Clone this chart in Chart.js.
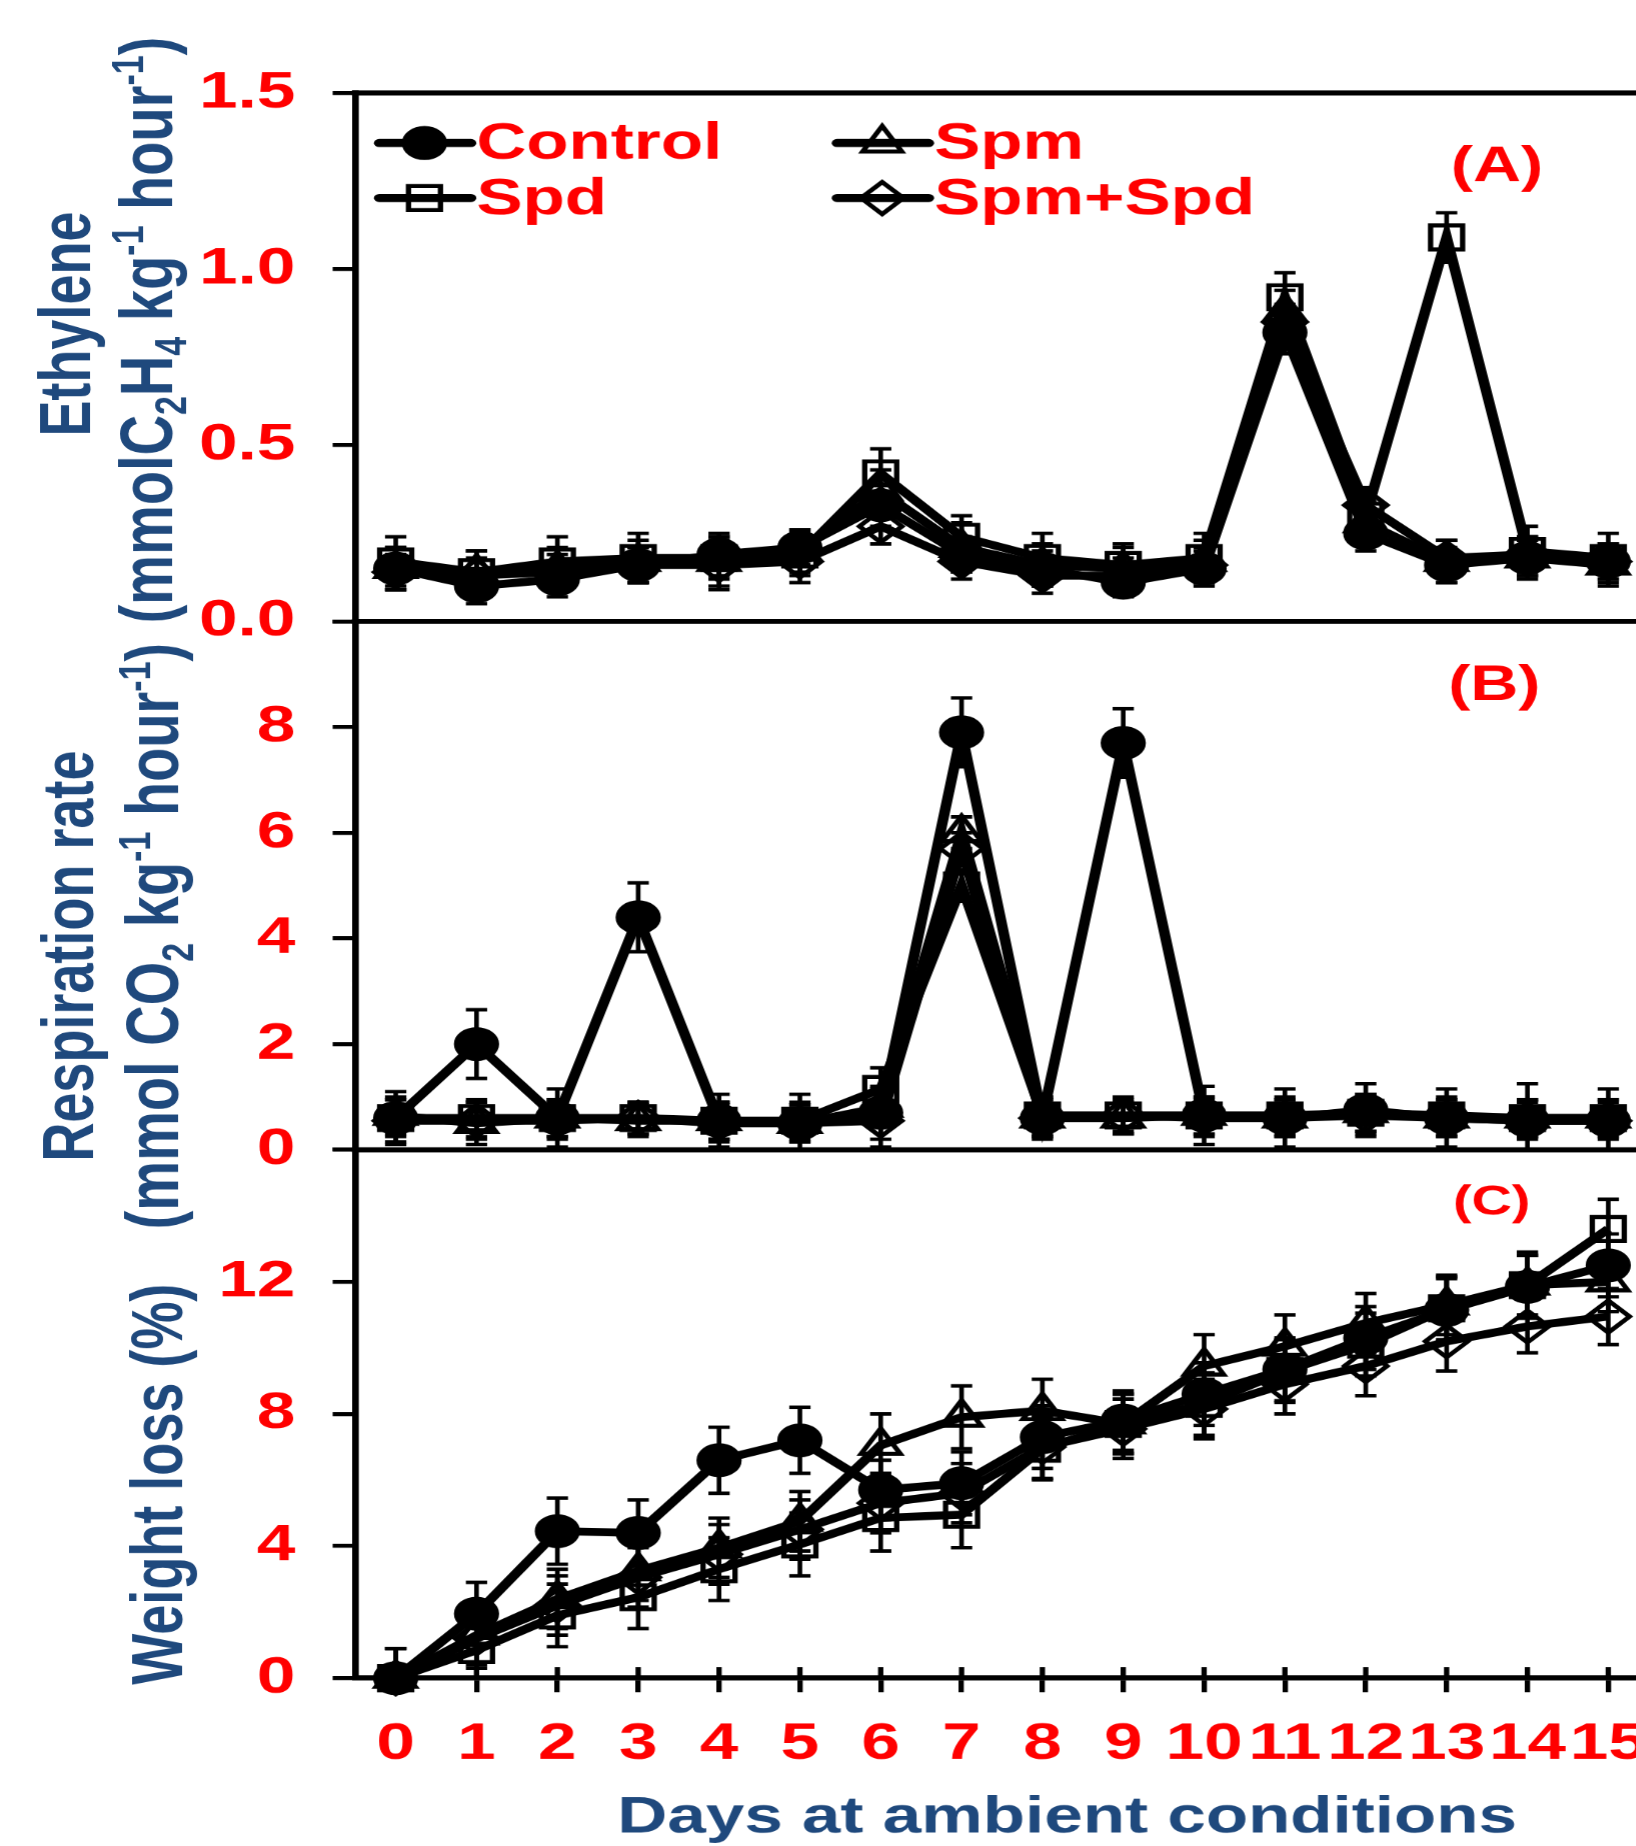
<!DOCTYPE html>
<html>
<head>
<meta charset="utf-8">
<script src="https://cdn.jsdelivr.net/npm/chart.js@4.4.1/dist/chart.umd.min.js"></script>
<style>
  html, body { margin: 0; padding: 0; background: #fff; overflow: hidden; }
  #wrap { width: 1636px; height: 1846px; overflow: hidden; position: relative; background: #fff; }
  /* the source figure is stretched sideways, so the whole canvas is too */
  #box { position: absolute; left: 0; top: 0; width: 1260px; height: 1846px; transform: scaleX(1.33); transform-origin: 0 0; }
</style>
</head>
<body>
<div id="wrap"><div id="box"><canvas id="c" width="1260" height="1846"></canvas></div></div>
<script>
// --- data ---
const days = ['0', '1', '2', '3', '4', '5', '6', '7', '8', '9', '10', '11', '12', '13', '14', '15'];
const ethTicks = [0, 0.5, 1.0, 1.5];
const resTicks = [0, 2, 4, 6, 8, 10];
const wlTicks = [0, 4, 8, 12, 16];

// (A) ethylene
const ethControl = [0.15, 0.10, 0.12, 0.16, 0.19, 0.21, 0.33, 0.19, 0.15, 0.11, 0.15, 0.82, 0.25, 0.16, 0.18, 0.17];
const ethSpd     = [0.17, 0.14, 0.17, 0.18, 0.18, 0.19, 0.42, 0.24, 0.18, 0.16, 0.18, 0.92, 0.30, 1.09, 0.20, 0.18];
const ethSpm     = [0.15, 0.14, 0.15, 0.17, 0.17, 0.20, 0.37, 0.21, 0.16, 0.15, 0.17, 0.88, 0.28, 0.17, 0.18, 0.16];
const ethSpmSpd  = [0.14, 0.13, 0.14, 0.16, 0.16, 0.17, 0.27, 0.17, 0.13, 0.13, 0.16, 0.85, 0.33, 0.18, 0.19, 0.17];
const ethControlErr = [0.06, 0.05, 0.05, 0.05, 0.06, 0.05, 0.06, 0.05, 0.05, 0.04, 0.05, 0.06, 0.05, 0.05, 0.05, 0.05];
const ethSpdErr     = [0.07, 0.06, 0.07, 0.07, 0.06, 0.06, 0.07, 0.06, 0.07, 0.06, 0.07, 0.07, 0.06, 0.07, 0.07, 0.07];
const ethSpmErr     = [0.06, 0.06, 0.06, 0.06, 0.07, 0.06, 0.06, 0.07, 0.06, 0.06, 0.06, 0.06, 0.06, 0.06, 0.06, 0.06];
const ethSpmSpdErr  = [0.05, 0.05, 0.05, 0.05, 0.07, 0.06, 0.05, 0.05, 0.05, 0.05, 0.05, 0.05, 0.05, 0.05, 0.05, 0.05];

// (B) respiration rate
const resControl = [0.60, 2.00, 0.60, 4.40, 0.55, 0.50, 0.70, 7.90, 0.60, 7.70, 0.65, 0.60, 0.75, 0.60, 0.55, 0.55];
const resSpd     = [0.60, 0.60, 0.60, 0.60, 0.55, 0.55, 1.15, 5.00, 0.65, 0.65, 0.65, 0.65, 0.70, 0.65, 0.60, 0.60];
const resSpm     = [0.65, 0.50, 0.60, 0.55, 0.55, 0.50, 0.80, 6.00, 0.60, 0.60, 0.65, 0.60, 0.70, 0.60, 0.60, 0.60];
const resSpmSpd  = [0.55, 0.55, 0.55, 0.60, 0.50, 0.50, 0.55, 5.70, 0.60, 0.65, 0.60, 0.60, 0.65, 0.60, 0.55, 0.55];
const resControlErr = [0.50, 0.65, 0.55, 0.65, 0.50, 0.55, 0.50, 0.65, 0.40, 0.65, 0.55, 0.55, 0.50, 0.55, 0.70, 0.60];
const resSpdErr     = [0.35, 0.35, 0.35, 0.30, 0.35, 0.35, 0.40, 0.30, 0.35, 0.35, 0.35, 0.35, 0.35, 0.35, 0.35, 0.35];
const resSpmErr     = [0.35, 0.40, 0.35, 0.30, 0.35, 0.35, 0.35, 0.30, 0.35, 0.30, 0.35, 0.35, 0.35, 0.35, 0.35, 0.35];
const resSpmSpdErr  = [0.40, 0.35, 0.35, 0.30, 0.35, 0.35, 0.50, 0.30, 0.35, 0.30, 0.35, 0.35, 0.35, 0.35, 0.35, 0.35];

// (C) weight loss
const wlControl = [0, 1.95, 4.45, 4.40, 6.60, 7.20, 5.70, 5.90, 7.30, 7.80, 8.60, 9.35, 10.30, 11.15, 11.85, 12.50];
const wlSpd     = [0, 0.85, 1.90, 2.45, 3.30, 4.05, 4.85, 4.95, 6.95, 7.70, 8.30, 9.30, 10.10, 11.20, 11.90, 13.60];
const wlSpm     = [0, 1.30, 2.40, 3.25, 3.95, 4.75, 7.05, 7.90, 8.10, 7.70, 9.45, 10.05, 10.75, 11.30, 11.90, 12.00];
const wlSpmSpd  = [0, 1.20, 2.20, 3.05, 3.75, 4.50, 5.30, 5.60, 7.00, 7.55, 8.15, 8.90, 9.45, 10.20, 10.65, 10.95];
const wlControlErr = [0.90, 0.95, 1.00, 1.00, 1.00, 1.00, 0.90, 0.95, 0.95, 0.90, 0.95, 0.95, 0.95, 0.95, 0.95, 0.95];
const wlSpdErr     = [0.90, 0.90, 0.95, 0.95, 0.95, 0.95, 1.00, 1.00, 0.95, 0.90, 0.95, 0.95, 0.95, 0.95, 1.00, 0.90];
const wlSpmErr     = [0.90, 0.90, 0.90, 0.90, 0.90, 0.90, 0.95, 0.95, 0.95, 0.90, 0.95, 0.95, 0.90, 0.90, 0.90, 0.90];
const wlSpmSpdErr  = [0.90, 0.90, 0.90, 0.90, 0.90, 0.90, 0.90, 0.90, 0.95, 0.90, 0.90, 0.90, 0.90, 0.90, 0.80, 0.85];

const treatments = ['Control', 'Spd', 'Spm', 'Spm+Spd'];

// --- styles ---
const FONT = "'Liberation Sans', Arial, sans-serif";
const RED = '#ff0000';
const BLUE = '#1f497d';
const HOLLOW = 'rgba(0,0,0,0)';
const markers = {
  'Control': { pointStyle: 'circle', fill: '#000000', radius: 15 },
  'Spd': { pointStyle: 'rect', fill: HOLLOW, radius: 17 },
  'Spm': { pointStyle: 'triangle', fill: HOLLOW, radius: 17 },
  'Spm+Spd': { pointStyle: 'rectRot', fill: HOLLOW, radius: 16 }
};

const panels = [
  { axis: 'yA', values: [ethControl, ethSpd, ethSpm, ethSpmSpd], errors: [ethControlErr, ethSpdErr, ethSpmErr, ethSpmSpdErr] },
  { axis: 'yB', values: [resControl, resSpd, resSpm, resSpmSpd], errors: [resControlErr, resSpdErr, resSpmErr, resSpmSpdErr] },
  { axis: 'yC', values: [wlControl, wlSpd, wlSpm, wlSpmSpd], errors: [wlControlErr, wlSpdErr, wlSpmErr, wlSpmSpdErr] }
];

const datasets = [];
panels.forEach(p => {
  treatments.forEach((name, i) => {
    const m = markers[name];
    datasets.push({
      label: name,
      data: p.values[i],
      errors: p.errors[i],
      yAxisID: p.axis,
      borderColor: '#000',
      borderWidth: 8,
      tension: 0,
      clip: false,
      pointStyle: m.pointStyle,
      pointRadius: m.radius,
      pointBackgroundColor: m.fill,
      pointBorderColor: '#000',
      pointBorderWidth: 4
    });
  });
});

// --- plugins ---
const errorBars = {
  id: 'errorBars',
  beforeDatasetsDraw(chart) {
    const ctx = chart.ctx;
    ctx.save();
    ctx.strokeStyle = '#000';
    ctx.lineWidth = 3.5;
    chart.data.datasets.forEach((ds, di) => {
      const meta = chart.getDatasetMeta(di);
      const ys = chart.scales[ds.yAxisID];
      meta.data.forEach((pt, i) => {
        const v = ds.data[i], e = ds.errors[i];
        const top = ys.getPixelForValue(v + e);
        const low = Math.max(v - e, ys.min);
        const bot = ys.getPixelForValue(low);
        ctx.beginPath();
        ctx.moveTo(pt.x, top); ctx.lineTo(pt.x, bot);
        ctx.moveTo(pt.x - 8, top); ctx.lineTo(pt.x + 8, top);
        if (low > ys.min) { ctx.moveTo(pt.x - 8, bot); ctx.lineTo(pt.x + 8, bot); }
        ctx.stroke();
      });
    });
    ctx.restore();
  }
};

const frame = {
  id: 'frame',
  beforeDatasetsDraw(chart) {
    const { ctx, chartArea } = chart;
    ctx.save();
    ctx.strokeStyle = '#000';
    ctx.lineWidth = 5;
    ['yA', 'yB', 'yC'].forEach(id => {
      const y = chart.scales[id].top;
      ctx.beginPath(); ctx.moveTo(chartArea.left - 2.5, y); ctx.lineTo(chart.width, y); ctx.stroke();
    });
    // x ticks cross the axis line
    const xs = chart.scales.x;
    ctx.lineWidth = 4;
    xs.ticks.forEach((t, i) => {
      const x = xs.getPixelForTick(i);
      ctx.beginPath(); ctx.moveTo(x, chartArea.bottom); ctx.lineTo(x, chartArea.bottom - 11); ctx.stroke();
    });
    ctx.restore();
  }
};

function drawMarker(ctx, name, x, y) {
  const m = markers[name];
  const r = m.radius;
  ctx.beginPath();
  if (m.pointStyle === 'circle') {
    ctx.arc(x, y, r, 0, Math.PI * 2);
  } else if (m.pointStyle === 'rect') {
    const s = r * Math.SQRT1_2;
    ctx.rect(x - s, y - s, 2 * s, 2 * s);
  } else if (m.pointStyle === 'triangle') {
    ctx.moveTo(x, y - r);
    ctx.lineTo(x + r * Math.sin(2 * Math.PI / 3), y - r * Math.cos(2 * Math.PI / 3));
    ctx.lineTo(x + r * Math.sin(4 * Math.PI / 3), y - r * Math.cos(4 * Math.PI / 3));
    ctx.closePath();
  } else {
    ctx.moveTo(x, y - r); ctx.lineTo(x + r, y); ctx.lineTo(x, y + r); ctx.lineTo(x - r, y); ctx.closePath();
  }
  ctx.fillStyle = m.fill;
  ctx.fill();
  ctx.lineWidth = 4;
  ctx.strokeStyle = '#000';
  ctx.stroke();
}

// rotated title, parts may be sub- or superscript
function drawRotated(ctx, parts, x, yCenter, size) {
  const fontOf = p => `bold ${p.sub || p.sup ? Math.round(size * 0.6) : size}px ${FONT}`;
  ctx.save();
  ctx.translate(x, yCenter);
  ctx.rotate(-Math.PI / 2);
  ctx.fillStyle = BLUE;
  ctx.textAlign = 'left';
  ctx.textBaseline = 'alphabetic';
  let total = 0;
  parts.forEach(p => { ctx.font = fontOf(p); total += ctx.measureText(p.t).width; });
  let cx = -total / 2;
  parts.forEach(p => {
    ctx.font = fontOf(p);
    const dy = p.sub ? size * 0.2 : (p.sup ? -size * 0.38 : 0);
    ctx.fillText(p.t, cx, dy);
    cx += ctx.measureText(p.t).width;
  });
  ctx.restore();
}

const labels = {
  id: 'labels',
  afterDraw(chart) {
    const ctx = chart.ctx;
    ctx.save();
    // legend
    const legendItems = [
      { name: 'Control', x: 285, y: 143 },
      { name: 'Spd', x: 285, y: 198 },
      { name: 'Spm', x: 629, y: 143 },
      { name: 'Spm+Spd', x: 629, y: 198 }
    ];
    legendItems.forEach(it => {
      ctx.strokeStyle = '#000';
      ctx.lineWidth = 8;
      ctx.lineCap = 'round';
      ctx.beginPath(); ctx.moveTo(it.x, it.y); ctx.lineTo(it.x + 69, it.y); ctx.stroke();
      ctx.lineCap = 'butt';
      drawMarker(ctx, it.name, it.x + 34, it.y);
      ctx.fillStyle = RED;
      ctx.font = `bold 52px ${FONT}`;
      ctx.textAlign = 'left';
      ctx.textBaseline = 'alphabetic';
      ctx.fillText(it.name, it.x + 73, it.y + 16);
    });
    // panel letters
    ctx.textAlign = 'center';
    ctx.fillStyle = RED;
    ctx.font = `bold 50px ${FONT}`;
    ctx.fillText('(A)', 1125, 181);
    ctx.fillText('(B)', 1123, 700);
    ctx.font = `bold 42px ${FONT}`;
    ctx.fillText('(C)', 1121, 1214);
    // x title
    ctx.fillStyle = BLUE;
    ctx.font = `bold 52px ${FONT}`;
    ctx.fillText('Days at ambient conditions', 802, 1832);
    ctx.restore();
    // y titles
    drawRotated(ctx, [{ t: 'Ethylene' }], 68, 324, 54);
    drawRotated(ctx, [{ t: '(mmolC' }, { t: '2', sub: true }, { t: 'H' }, { t: '4', sub: true }, { t: ' kg' }, { t: '-1', sup: true }, { t: ' hour' }, { t: '-1', sup: true }, { t: ')' }], 129, 330, 56);
    drawRotated(ctx, [{ t: 'Respiration rate' }], 70, 956, 54);
    drawRotated(ctx, [{ t: '(mmol CO' }, { t: '2', sub: true }, { t: ' kg' }, { t: '-1', sup: true }, { t: ' hour' }, { t: '-1', sup: true }, { t: ')' }], 134, 936, 56);
    drawRotated(ctx, [{ t: 'Weight loss (%)' }], 137, 1484, 54);
  }
};

// --- axes ---
const tickFont = { family: FONT, size: 52, weight: 'bold' };

function yAxis(tickValues, weight, fmt) {
  return {
    type: 'linear',
    position: 'left',
    stack: 'panels',
    stackWeight: 1,
    weight: weight,
    offset: false,
    min: tickValues[0],
    max: tickValues[tickValues.length - 1],
    grid: { drawOnChartArea: false, drawTicks: true, tickLength: 17, tickWidth: 4, tickColor: '#000' },
    border: { color: '#000', width: 5 },
    ticks: { color: RED, font: tickFont, padding: 28, autoSkip: false, callback: fmt },
    afterBuildTicks: axis => { axis.ticks = tickValues.map(v => ({ value: v })); },
    afterFit: axis => { axis.width = 267; }
  };
}

new Chart(document.getElementById('c'), {
  type: 'line',
  data: { labels: days, datasets: datasets },
  options: {
    responsive: false,
    devicePixelRatio: 1.33,
    animation: false,
    events: [],
    layout: { padding: { top: 93, right: 18.6, left: 0, bottom: 0 } },
    plugins: { legend: { display: false }, tooltip: { enabled: false } },
    scales: {
      x: {
        type: 'category',
        offset: true,
        grid: { offset: false, drawOnChartArea: false, drawTicks: true, tickLength: 14, tickWidth: 4, tickColor: '#000' },
        border: { color: '#000', width: 5 },
        ticks: { color: RED, font: tickFont, padding: 21, autoSkip: false, maxRotation: 0, minRotation: 0 },
        afterFit: axis => { axis.height = 168; }
      },
      yA: yAxis(ethTicks, 3, v => v.toFixed(1)),
      yB: yAxis(resTicks, 2, v => (v >= 10 ? '' : v)),
      yC: yAxis(wlTicks, 1, v => (v >= 16 ? '' : v))
    }
  },
  plugins: [frame, errorBars, labels]
});
</script>
</body>
</html>
